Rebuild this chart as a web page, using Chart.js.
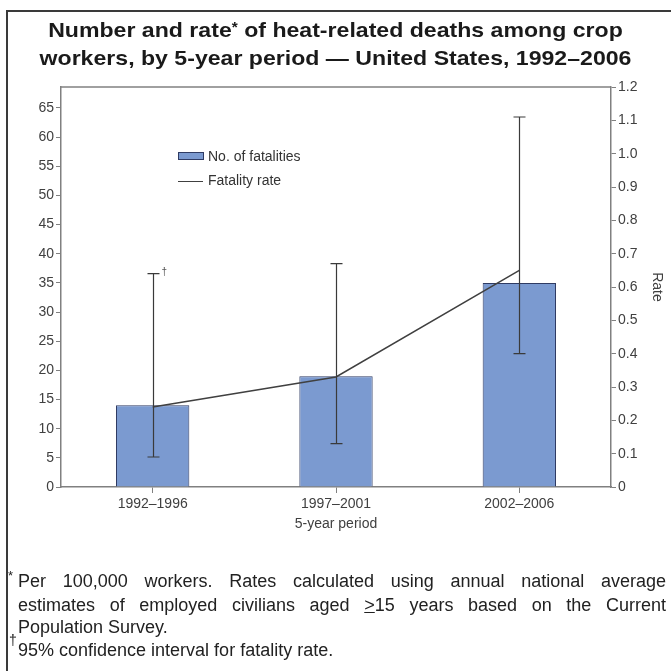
<!DOCTYPE html>
<html>
<head>
<meta charset="utf-8">
<script src="https://cdn.jsdelivr.net/npm/chart.js@4.4.1/dist/chart.umd.min.js"></script>
<style>
  html, body { margin:0; padding:0; background:#fff; }
  #wrap { position:relative; width:671px; height:671px; overflow:hidden; font-family:"Liberation Sans", Arial, sans-serif; }
  #frame { position:absolute; left:6px; top:10px; width:700px; height:700px; border-left:2px solid #3a3a3a; border-top:2px solid #3a3a3a; }
  canvas { position:absolute; left:0; top:0; }
  .title { position:absolute; left:0; width:671px; text-align:center; font-weight:bold; font-size:21px; color:#1a1a1a; white-space:nowrap; transform:scaleX(1.1); transform-origin:center; }
  .leg { position:absolute; font-size:14px; color:#333; white-space:nowrap; }
  .note { position:absolute; left:18px; width:648px; font-size:18px; color:#222; white-space:nowrap; }
  .just { text-align:justify; text-align-last:justify; }
</style>
</head>
<body>
<div id="wrap">
  <canvas id="c" width="671" height="671"></canvas>
  <div id="frame"></div>
  <div class="title" style="top:18px;">Number and rate<span style="font-size:14px;vertical-align:5px;">*</span> of heat-related deaths among crop</div>
  <div class="title" style="top:46px;">workers, by 5-year period — United States, 1992–2006</div>
  <div style="position:absolute;left:178px;top:152px;width:24px;height:6px;background:#7b9ad0;border:1px solid #2f3b63;"></div>
  <div class="leg" style="left:208px;top:148px;">No. of fatalities</div>
  <div style="position:absolute;left:178px;top:181px;width:25px;height:0;border-top:1.5px solid #404040;"></div>
  <div class="leg" style="left:208px;top:172px;">Fatality rate</div>
  <div class="note just" style="top:571px;"><span style="position:absolute;left:-10px;top:-3px;font-size:13px;">*</span>Per 100,000 workers. Rates calculated using annual national average</div>
  <div class="note just" style="top:595px;">estimates of employed civilians aged <u>&gt;</u>15 years based on the Current</div>
  <div class="note" style="top:617px;">Population Survey.</div>
  <div class="note" style="top:640px;"><span style="position:absolute;left:-9px;top:-8px;font-size:14px;">†</span>95% confidence interval for fatality rate.</div>
</div>
<script>
const categories = ['1992–1996', '1997–2001', '2002–2006'];
const fatalities = [14, 19, 35];
const rates = [0.24, 0.33, 0.65];
const ciLow = [0.09, 0.13, 0.40];
const ciHigh = [0.64, 0.67, 1.11];
const leftTicks = [0, 5, 10, 15, 20, 25, 30, 35, 40, 45, 50, 55, 60, 65];
const rightTicks = [0, 0.1, 0.2, 0.3, 0.4, 0.5, 0.6, 0.7, 0.8, 0.9, 1.0, 1.1, 1.2];

const AXIS = '#808080';
const LABEL = '#404040';
const FONT = '"Liberation Sans", Arial';

const extras = {
  id: 'extras',
  afterDatasetsDraw(chart) {
    const ctx = chart.ctx, xs = chart.scales.x, ys = chart.scales.y1, a = chart.chartArea;
    ctx.save();
    ctx.strokeStyle = '#3a3a3a';
    ctx.lineWidth = 1.2;
    categories.forEach((c, i) => {
      const px = Math.round(xs.getPixelForValue(i)) + 0.5;
      const t = ys.getPixelForValue(ciHigh[i]);
      const b = ys.getPixelForValue(ciLow[i]);
      ctx.beginPath();
      ctx.moveTo(px, t); ctx.lineTo(px, b);
      ctx.moveTo(px - 6, t); ctx.lineTo(px + 6, t);
      ctx.moveTo(px - 6, b); ctx.lineTo(px + 6, b);
      ctx.stroke();
      if (i === 0) {
        ctx.fillStyle = '#555';
        ctx.font = '10px ' + FONT;
        ctx.textBaseline = 'alphabetic';
        ctx.fillText('†', px + 8, t + 1);
      }
    });
    ctx.strokeStyle = AXIS;
    ctx.lineWidth = 1.5;
    ctx.beginPath();
    ctx.moveTo(a.left, a.top); ctx.lineTo(a.right, a.top);
    ctx.stroke();
    ctx.restore();
  }
};

new Chart(document.getElementById('c'), {
  type: 'bar',
  data: {
    labels: categories,
    datasets: [
      {
        type: 'line', label: 'Fatality rate', data: rates, yAxisID: 'y1',
        borderColor: '#404040', borderWidth: 1.5, pointRadius: 0, tension: 0, order: 0
      },
      {
        type: 'bar', label: 'No. of fatalities', data: fatalities, yAxisID: 'y',
        backgroundColor: '#7b9ad0', borderColor: '#2f3b63', borderWidth: 1,
        barPercentage: 0.4, categoryPercentage: 1.0, order: 1
      }
    ]
  },
  options: {
    responsive: false,
    animation: false,
    layout: { padding: { left: 0, right: 4, top: 87, bottom: 138 } },
    plugins: { legend: { display: false }, title: { display: false }, tooltip: { enabled: false } },
    scales: {
      x: {
        grid: { display: true, drawOnChartArea: false, drawTicks: true, tickLength: 6, offset: false, color: AXIS },
        border: { display: true, color: AXIS, width: 1.5 },
        ticks: { color: LABEL, font: { size: 14, family: FONT }, padding: 3 },
        title: { display: true, text: '5-year period', color: LABEL, font: { size: 14, family: FONT }, padding: { top: 2, bottom: 0 } },
        afterFit(s) { s.height = 46; }
      },
      y: {
        position: 'left', min: 0, max: 68.6,
        afterBuildTicks(s) { s.ticks = leftTicks.map(v => ({ value: v })); },
        grid: { display: true, drawOnChartArea: false, drawTicks: true, tickLength: 5, color: AXIS },
        border: { display: true, color: AXIS, width: 1.5 },
        ticks: { color: LABEL, font: { size: 14, family: FONT }, padding: 2 },
        afterFit(s) { s.width = 61; }
      },
      y1: {
        position: 'right', min: 0, max: 1.2,
        afterBuildTicks(s) { s.ticks = rightTicks.map(v => ({ value: v })); },
        grid: { display: true, drawOnChartArea: false, drawTicks: true, tickLength: 5, color: AXIS },
        border: { display: true, color: AXIS, width: 1.5 },
        ticks: { color: LABEL, font: { size: 14, family: FONT }, padding: 2,
          callback: v => v === 0 ? '0' : v.toFixed(1) },
        title: { display: true, text: 'Rate', color: LABEL, font: { size: 14, family: FONT }, padding: 2 },
        afterFit(s) { s.width = 56; }
      }
    }
  },
  plugins: [extras]
});
</script>
</body>
</html>
